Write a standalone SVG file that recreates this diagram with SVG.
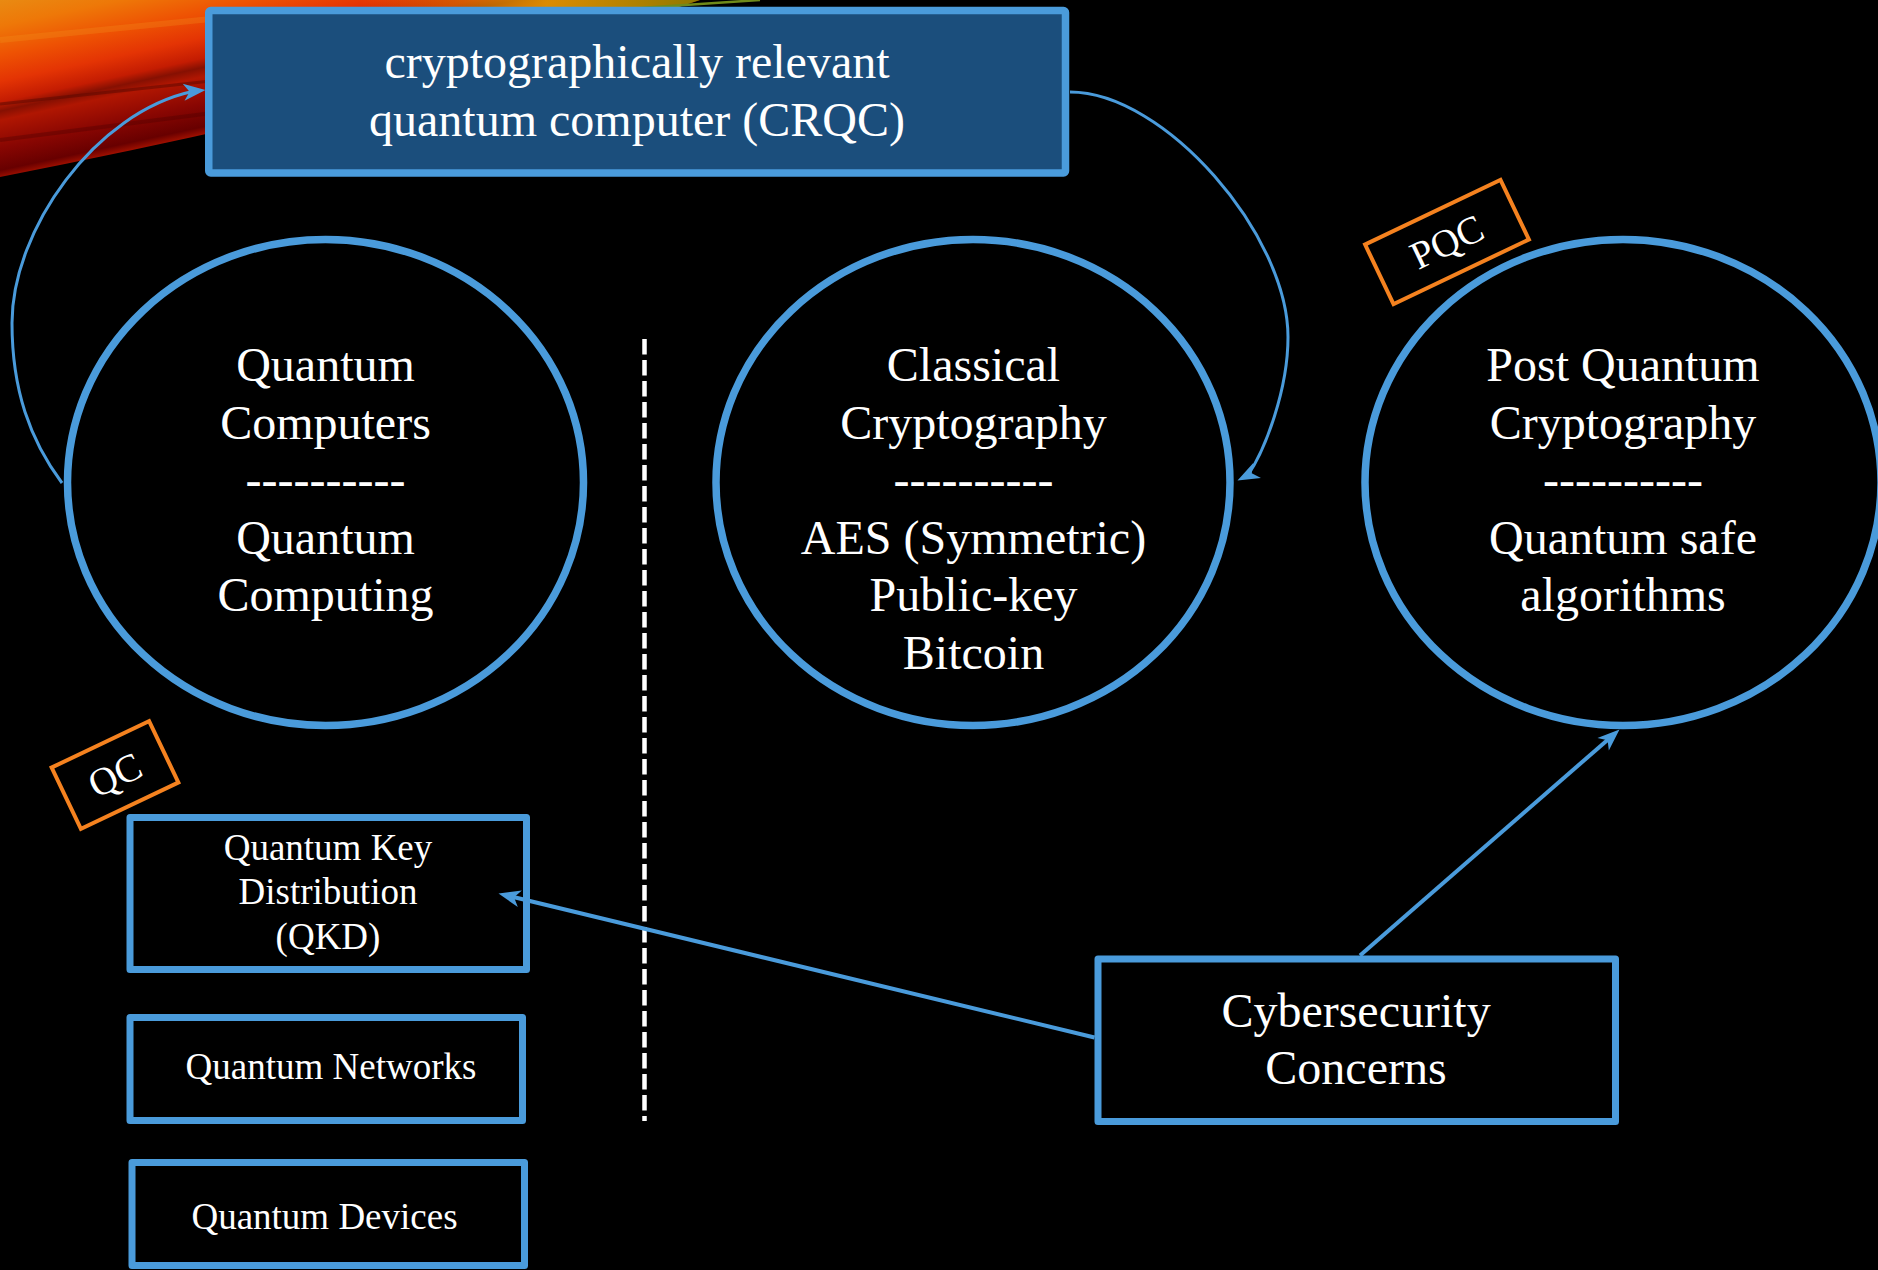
<svg xmlns="http://www.w3.org/2000/svg" xmlns:xlink="http://www.w3.org/1999/xlink" width="1878" height="1270" viewBox="0 0 1878 1270">
  <defs>
    <style>
      .bg { fill: #000000; }
      .node-shape { fill: none; stroke: #4a9bdb; stroke-width: 7.5; }
      .node-box { fill: none; stroke: #4a9bdb; stroke-width: 7; stroke-linejoin: round; }
      .title-box { fill: #1b4e7c; stroke: #4a9bdb; stroke-width: 7.5; stroke-linejoin: round; }
      .tag { fill: #000000; stroke: #f5821f; stroke-width: 4; }
      .lbl { font-family: "Liberation Serif", "Times New Roman", serif; fill: #ffffff; text-anchor: middle; }
      .big { font-size: 48px; }
      .small { font-size: 37px; }
      .tagtxt { font-size: 39px; }
      .link { fill: none; stroke: #4a9bdb; }
      .curve { stroke-width: 3; }
      .straight { stroke-width: 4; }
      .head { fill: #4a9bdb; }
      .divider { fill: none; stroke: #ffffff; stroke-width: 4.5; stroke-dasharray: 15.5 5.5; }
    </style>
    <!-- arrowhead, tip at the origin pointing along +x -->
    <path id="arrowhead" d="M0,0 L-22,-8.5 L-16,0 L-22,8.5 Z"/>
    <linearGradient id="sweepWarm" gradientUnits="userSpaceOnUse" x1="0" y1="0" x2="38" y2="177">
      <stop offset="0" stop-color="#e98a12"/>
      <stop offset="0.14" stop-color="#ee7808"/>
      <stop offset="0.3" stop-color="#ee5203"/>
      <stop offset="0.44" stop-color="#e43404"/>
      <stop offset="0.55" stop-color="#c41c02"/>
      <stop offset="0.6" stop-color="#861002"/>
      <stop offset="0.65" stop-color="#b01602"/>
      <stop offset="0.8" stop-color="#880602"/>
      <stop offset="0.92" stop-color="#680000"/>
      <stop offset="0.97" stop-color="#a81200"/>
      <stop offset="1" stop-color="#600000"/>
    </linearGradient>
    <linearGradient id="sweepGold" gradientUnits="userSpaceOnUse" x1="360" y1="0" x2="700" y2="0">
      <stop offset="0" stop-color="#e8a000" stop-opacity="0"/>
      <stop offset="0.55" stop-color="#e4a000" stop-opacity="0.85"/>
      <stop offset="1" stop-color="#8e7800" stop-opacity="1"/>
    </linearGradient>
  </defs>

  <!-- page background -->
  <rect class="bg" x="0" y="0" width="1878" height="1270"/>

  <!-- warm light sweep in the top-left corner -->
  <g id="corner-sweep">
    <path d="M0,0 L700,0 Q420,95 0,177 Z" fill="url(#sweepWarm)"/>
    <path d="M0,0 L700,0 Q420,95 0,177 Z" fill="url(#sweepGold)"/>
    <path d="M0,104 L220,80" stroke="#5a0800" stroke-width="3" opacity="0.5" fill="none"/>
    <path d="M0,140 L220,112" stroke="#4a0000" stroke-width="4" opacity="0.35" fill="none"/>
    <path d="M0,40 L300,10" stroke="#f59a20" stroke-width="6" opacity="0.25" fill="none"/>
    <path d="M640,8 L760,0" stroke="#6f8a1a" stroke-width="2.5" fill="none"/>
  </g>

  <!-- vertical divider -->
  <line class="divider" x1="644.5" y1="339" x2="644.5" y2="1121"/>

  <!-- connectors -->
  <g id="connectors">
    <!-- Quantum Computers -> CRQC -->
    <path class="link curve" d="M62,483 C30,440 12,390 12,323 C12,230 95,112 193.6,91.3"/>
    <use href="#arrowhead" xlink:href="#arrowhead" class="head" transform="translate(205.5,90) rotate(-6)"/>
    <!-- CRQC -> Classical Cryptography -->
    <path class="link curve" d="M1070,92 C1165,92 1288,235 1288,337 C1288,390 1265,450 1248,475"/>
    <use href="#arrowhead" xlink:href="#arrowhead" class="head" transform="translate(1237.5,480.5) rotate(153)"/>
    <!-- Cybersecurity -> QKD -->
    <path class="link straight" d="M1094.5,1037.5 L510.2,896.3"/>
    <use href="#arrowhead" xlink:href="#arrowhead" class="head" transform="translate(498.5,893.5) rotate(194)"/>
    <!-- Cybersecurity -> Post Quantum Cryptography -->
    <path class="link straight" d="M1360,955.5 L1610.4,737.4"/>
    <use href="#arrowhead" xlink:href="#arrowhead" class="head" transform="translate(1619.5,729.5) rotate(-42)"/>
  </g>

  <!-- CRQC title box -->
  <g id="crqc">
    <rect class="title-box" x="208.75" y="10.5" width="856.75" height="162.5" rx="2"/>
    <text class="lbl big" x="637" y="78">cryptographically relevant</text>
    <text class="lbl big" x="637" y="135.5">quantum computer (CRQC)</text>
  </g>

  <!-- Quantum Computers circle -->
  <g id="quantum-computers">
    <ellipse class="node-shape" cx="325.5" cy="482.5" rx="258" ry="243"/>
    <text class="lbl big" x="325.5" y="381">Quantum</text>
    <text class="lbl big" x="325.5" y="438.5">Computers</text>
    <text class="lbl big" x="325.5" y="496">----------</text>
    <text class="lbl big" x="325.5" y="553.5">Quantum</text>
    <text class="lbl big" x="325.5" y="611">Computing</text>
  </g>

  <!-- Classical Cryptography circle -->
  <g id="classical-cryptography">
    <ellipse class="node-shape" cx="973" cy="482.5" rx="257" ry="243"/>
    <text class="lbl big" x="973.5" y="381">Classical</text>
    <text class="lbl big" x="973.5" y="438.5">Cryptography</text>
    <text class="lbl big" x="973.5" y="496">----------</text>
    <text class="lbl big" x="973.5" y="553.5">AES (Symmetric)</text>
    <text class="lbl big" x="973.5" y="611">Public-key</text>
    <text class="lbl big" x="973.5" y="668.5">Bitcoin</text>
  </g>

  <!-- Post Quantum Cryptography circle -->
  <g id="post-quantum-cryptography">
    <ellipse class="node-shape" cx="1623" cy="482.5" rx="258" ry="243"/>
    <text class="lbl big" x="1623" y="381">Post Quantum</text>
    <text class="lbl big" x="1623" y="438.5">Cryptography</text>
    <text class="lbl big" x="1623" y="496">----------</text>
    <text class="lbl big" x="1623" y="553.5">Quantum safe</text>
    <text class="lbl big" x="1623" y="611">algorithms</text>
  </g>

  <!-- PQC tag -->
  <g id="tag-pqc" transform="translate(1447,242) rotate(-25.5)">
    <rect class="tag" x="-75" y="-33" width="150" height="66"/>
    <text class="lbl tagtxt" x="0" y="13">PQC</text>
  </g>

  <!-- QC tag -->
  <g id="tag-qc" transform="translate(115,775) rotate(-25.5)">
    <rect class="tag" x="-54" y="-34" width="108" height="68"/>
    <text class="lbl tagtxt" x="0" y="13">QC</text>
  </g>

  <!-- Quantum Key Distribution box -->
  <g id="qkd">
    <rect class="node-box" x="130" y="817.5" width="396.5" height="152"/>
    <text class="lbl small" x="328" y="860">Quantum Key</text>
    <text class="lbl small" x="328" y="904.3">Distribution</text>
    <text class="lbl small" x="328" y="948.6">(QKD)</text>
  </g>

  <!-- Quantum Networks box -->
  <g id="quantum-networks">
    <rect class="node-box" x="130" y="1017.5" width="392.5" height="103"/>
    <text class="lbl small" x="331" y="1079">Quantum Networks</text>
  </g>

  <!-- Quantum Devices box -->
  <g id="quantum-devices">
    <rect class="node-box" x="132" y="1162.5" width="392.5" height="103"/>
    <text class="lbl small" x="324.5" y="1229">Quantum Devices</text>
  </g>

  <!-- Cybersecurity Concerns box -->
  <g id="cybersecurity">
    <rect class="node-box" x="1098" y="959" width="517.5" height="162.5"/>
    <text class="lbl big" x="1356" y="1027">Cybersecurity</text>
    <text class="lbl big" x="1356" y="1084">Concerns</text>
  </g>
</svg>
